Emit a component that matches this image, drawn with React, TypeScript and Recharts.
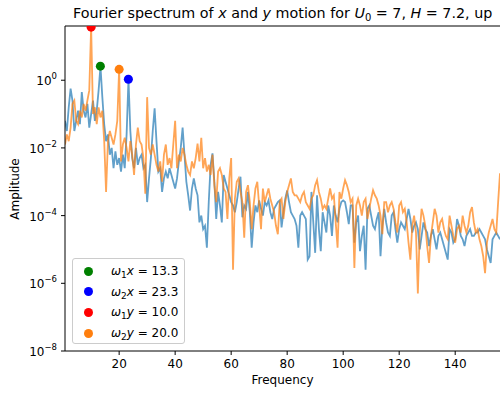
import React from 'react';
import { ComposedChart, Line, Scatter, XAxis, YAxis, ReferenceLine } from 'recharts';

// FFT bin spacing (bins run 2/3 .. 156)
const freqStep = 2 / 3;

// log10 of the amplitude, one value per bin
const xMotionLog = [
  -1.2, -1.5, -0.8, -0.25, -0.6, -1.5, -1.2, -0.9, -1.3, -0.35,
  -0.9, -1.1, -0.7, -1.4, -1.0, -0.6, -1.2, -0.9, -0.3, 0.41,
  -0.5, -1.3, -1.8, -1.6, -2.2, -2.0, -2.6, -2.1, -2.5, -2.3,
  -2.7, -2.2, -2.6, -1.6, 0.03, -1.5, -2.3, -2.6, -2.0, -2.5,
  -2.3, -2.2, -2.6, -2.5, -3.6, -2.9, -2.3, -1.5, -0.83, -1.8,
  -2.7, -2.6, -3.3, -2.9, -2.7, -2.9, -2.6, -2.8, -3.0, -3.2,
  -2.9, -2.4, -2.0, -1.4, -2.2, -3.0, -3.4, -3.85, -3.2, -2.9,
  -3.2, -3.4, -4.2, -4.0, -4.4, -4.3, -4.95, -3.6, -2.5, -2.16,
  -3.0, -4.1, -3.3, -3.7, -4.2, -2.8, -3.0, -3.2, -3.4, -3.6,
  -3.7, -3.9, -3.6, -3.2, -2.85, -4.05, -3.7, -3.8, -3.3, -3.9,
  -4.95, -4.2, -3.7, -3.9, -3.55, -3.8, -4.0, -3.6, -3.7, -3.55,
  -3.9, -4.1, -3.8, -3.7, -3.6, -3.55, -4.35, -3.9, -3.5, -3.26,
  -3.6, -3.9, -4.0, -4.1, -4.3, -4.95, -4.0, -3.9, -4.0, -4.1,
  -5.3, -5.2, -3.3, -4.2, -5.1, -3.4, -4.4, -5.05, -3.9, -4.2,
  -4.5, -3.7, -4.0, -4.6, -3.7, -4.0, -4.2, -3.8, -3.6, -3.55,
  -3.6, -3.9, -4.25, -3.7, -3.7, -4.8, -4.2, -4.0, -5.05, -4.6,
  -4.3, -5.6, -3.8, -3.7, -4.0, -4.3, -4.4, -4.1, -3.9, -5.2,
  -4.3, -3.8, -4.2, -4.5, -4.6, -4.0, -3.9, -4.4, -4.8, -4.4,
  -4.2, -4.3, -4.4, -4.1, -3.8, -4.1, -4.5, -4.3, -4.2, -4.4,
  -5.0, -4.6, -4.2, -4.4, -4.5, -4.9, -4.6, -4.4, -4.7, -5.0,
  -4.6, -4.5, -4.7, -4.9, -5.1, -5.3, -4.4, -4.5, -4.8, -4.7,
  -4.1, -4.3, -4.6, -4.7, -4.9, -4.6, -4.5, -4.4, -4.6, -4.6,
  -4.5, -4.5, -4.4, -4.5, -4.6, -4.7, -5.0, -5.2, -5.4, -4.7,
  -4.6, -4.5, -4.6, -4.7,
];

const yMotionLog = [
  -1.9, -1.6, -1.8, -1.4, -0.7, -0.6, -1.2, -1.3, -0.9, -1.1,
  -0.7, -0.9, -0.6, -0.3, 1.57, -1.0, -0.8, -1.3, -0.8, -1.1,
  -0.9, -1.8, -3.3, -1.8, -1.5, -1.7, -1.9, -1.6, -1.2, 0.33,
  -2.4, -1.9, -1.7, -2.0, -2.4, -1.8, -2.2, -2.8, -1.9, -1.4,
  -1.8, -1.9, -2.3, -3.35, -0.5, -2.0, -2.2, -1.9, -2.2, -2.5,
  -2.7, -2.4, -3.0, -2.2, -1.9, -2.5, -2.3, -2.6, -1.9, -1.2,
  -2.6, -2.2, -2.4, -2.0, -2.2, -2.5, -2.7, -2.8, -2.4, -2.6,
  -2.3, -1.87, -2.4, -1.7, -2.6, -2.3, -2.7, -2.5, -2.8, -2.2,
  -3.1, -3.6, -2.7, -2.6, -2.8, -3.2, -3.3, -4.1, -2.9, -2.3,
  -5.6, -3.5, -3.0, -2.9, -3.3, -3.6, -4.65, -3.3, -3.1, -3.6,
  -4.4, -3.7, -3.2, -3.0, -3.7, -4.4, -3.2, -3.6, -3.4, -3.2,
  -3.5, -3.7, -3.9, -4.3, -4.55, -3.6, -3.5, -4.1, -3.6, -3.3,
  -3.1, -2.9, -3.3, -3.4, -3.4, -3.5, -3.6, -3.4, -3.3, -3.6,
  -3.7, -3.8, -3.5, -3.4, -3.1, -2.95, -3.3, -3.5, -3.8, -3.7,
  -3.8, -3.5, -3.2, -3.5, -3.4, -4.2, -4.95, -3.3, -3.5, -3.2,
  -2.95, -3.1, -3.3, -3.6, -3.5, -5.55, -3.7, -3.5, -3.7, -4.0,
  -3.6, -3.5, -4.1, -3.8, -3.5, -3.25, -3.4, -3.5, -3.7, -4.0,
  -4.55, -3.6, -3.6, -3.9, -3.7, -3.6, -3.8, -4.2, -4.5, -3.7,
  -3.6, -3.9, -3.8, -4.2, -4.8, -5.3, -4.3, -4.0, -4.5, -6.3,
  -4.5, -3.8, -4.0, -4.3, -4.9, -5.4, -4.6, -4.2, -3.8, -4.0,
  -4.5, -4.2, -4.1, -4.4, -4.6, -4.7, -4.0, -4.3, -4.6, -4.8,
  -4.4, -4.3, -4.5, -4.0, -4.3, -4.5, -4.3, -3.9, -3.75, -4.2,
  -4.5, -4.4, -4.7, -4.9, -5.2, -5.7, -4.8, -4.5, -4.3, -4.1,
  -4.4, -4.5, -3.6, -2.75,
];

// marked peaks
const peakSub = ['1', '2', '1', '2'];
const peakVar = ['x', 'x', 'y', 'y'];
const peakFreq = [13.3, 23.3, 10.0, 20.0];
const peakAmp = [2.6, 1.07, 37, 2.1];
const peakColor = ['#008000', '#0000ff', '#ff0000', '#ff7f0e'];

const xTicks = [20, 40, 60, 80, 100, 120, 140];
const yTicks = [1e-8, 1e-6, 1e-4, 1e-2, 1];

const data = xMotionLog.map((v, i) => ({
  f: (i + 1) * freqStep,
  ax: 10 ** v,
  ay: 10 ** yMotionLog[i],
}));

const font = 'DejaVu Sans';

const LogTick = ({ x, y, payload }: any) => {
  const e = Math.round(Math.log10(payload.value));
  return (
    <text x={x} y={y} dy={5} textAnchor="end" fontSize={12} fontFamily={font} fill="#000">
      10
      <tspan dy={-6} fontSize={8.5}>{e < 0 ? '\u2212' + Math.abs(e) : String(e)}</tspan>
    </text>
  );
};

export default function App() {
  return (
    <div style={{ position: 'absolute', left: 0, top: 0, width: 500, height: 396, overflow: 'hidden', background: '#fff', fontFamily: font }}>
      <div style={{ position: 'absolute', left: 73, top: 5, fontSize: 14.3, lineHeight: '16px', whiteSpace: 'nowrap' }}>
        Fourier spectrum of <i>x</i> and <i>y</i> motion for <i>U</i>
        <span style={{ fontSize: 10, position: 'relative', top: 3 }}>0</span> = 7, <i>H</i> = 7.2, up
      </div>
      <ComposedChart width={500} height={396} data={data} margin={{ top: 26, right: 0, bottom: 0, left: 0 }}>
        <XAxis
          dataKey="f"
          type="number"
          domain={[freqStep, 156]}
          ticks={xTicks}
          allowDataOverflow
          tickSize={4}
          tickMargin={4}
          height={45}
          stroke="#000"
          tick={{ fontSize: 12, fontFamily: font, fill: '#000' }}
        />
        <YAxis
          scale="log"
          domain={[1e-8, 40]}
          ticks={yTicks}
          allowDataOverflow
          width={65}
          tickSize={4}
          tickMargin={4}
          stroke="#000"
          tick={<LogTick />}
        />
        <ReferenceLine y={40} stroke="#000" />
        <Line dataKey="ax" stroke="#1f77b4" strokeOpacity={0.7} strokeWidth={1.8} dot={false} isAnimationActive={false} />
        <Line dataKey="ay" stroke="#ff7f0e" strokeOpacity={0.7} strokeWidth={1.8} dot={false} isAnimationActive={false} />
        {peakFreq.map((f, i) => (
          <Scatter
            key={i}
            data={[{ f, amp: peakAmp[i] }]}
            dataKey="amp"
            fill={peakColor[i]}
            isAnimationActive={false}
          />
        ))}
      </ComposedChart>
      <div style={{ position: 'absolute', left: 15, top: 189, fontSize: 12, transform: 'translate(-50%, -50%) rotate(-90deg)', whiteSpace: 'nowrap' }}>
        Amplitude
      </div>
      <div style={{ position: 'absolute', left: 282.5, top: 373, fontSize: 12, transform: 'translateX(-50%)', whiteSpace: 'nowrap' }}>
        Frequency
      </div>
      <div
        style={{
          position: 'absolute', left: 72, top: 258, width: 113, height: 86, boxSizing: 'border-box',
          border: '1px solid #cccccc', borderRadius: 3, background: 'rgba(255,255,255,0.8)', fontSize: 12,
        }}
      >
        {peakFreq.map((f, i) => (
          <div key={i} style={{ position: 'absolute', left: 0, top: 3 + i * 20.7, height: 18, display: 'flex', alignItems: 'center', whiteSpace: 'nowrap' }}>
            <span style={{ display: 'inline-block', width: 9, height: 9, borderRadius: '50%', background: peakColor[i], marginLeft: 11, marginRight: 18 }} />
            <span>
              <i>ω</i>
              <span style={{ fontSize: 9, position: 'relative', top: 3 }}>{peakSub[i]}</span>
              <i>{peakVar[i]}</i> = {f.toFixed(1)}
            </span>
          </div>
        ))}
      </div>
    </div>
  );
}
